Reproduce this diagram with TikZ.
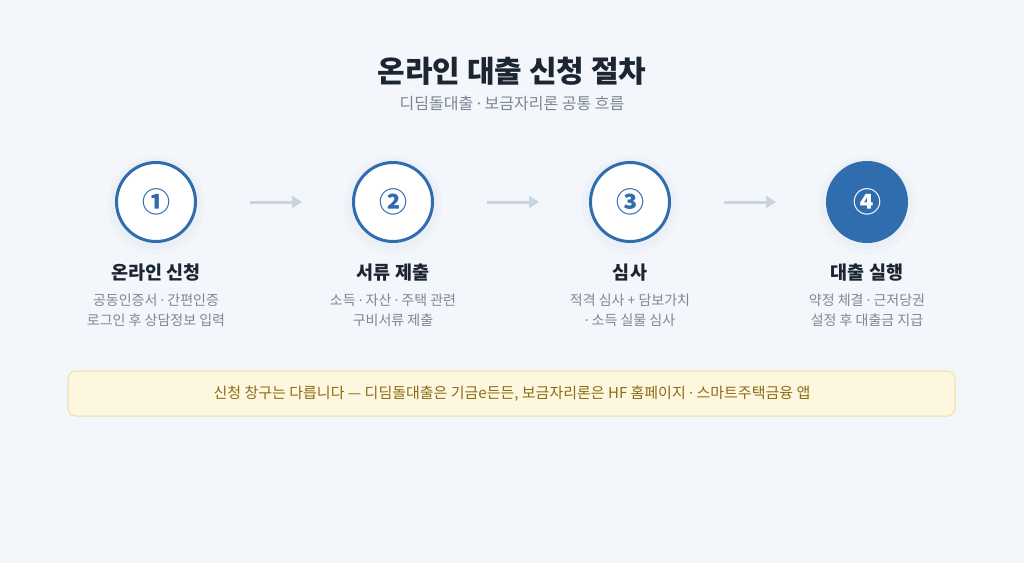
\documentclass[tikz,border=0pt]{standalone}
\usepackage{fontspec}
\setmainfont{Noto Sans CJK KR}
\newfontfamily\dotfont{Noto Sans}
\usepackage{tikz}
\usetikzlibrary{arrows.meta}
\usetikzlibrary{positioning}

\newcommand{\mdot}{{\dotfont ·}}

\definecolor{bgcol}{HTML}{F3F6FA}
\definecolor{stepblue}{HTML}{2F6DAE}
\definecolor{titlecol}{HTML}{1C2633}
\definecolor{subcol}{HTML}{7B8696}
\definecolor{desccol}{HTML}{7E8894}
\definecolor{arrowcol}{HTML}{C8D4E2}
\definecolor{notefill}{HTML}{FEF7E0}
\definecolor{notedraw}{HTML}{F2DE9E}
\definecolor{notetext}{HTML}{8C6B14}

\tikzset{
	stepcircle/.style={circle, draw=stepblue, line width=3pt, fill=white, minimum size=79pt, inner sep=0pt, text=stepblue, font=\bfseries\fontsize{28}{28}\selectfont},
	stepdone/.style={stepcircle, fill=stepblue, text=white},
	steptitle/.style={text=titlecol, font=\bfseries\fontsize{18.5}{18.5}\selectfont},
	stepdesc/.style={text=desccol, align=center, font=\fontsize{14}{20}\selectfont},
	flow/.style={draw=arrowcol, line width=3pt, -{Triangle[length=10pt,width=12pt]}, shorten <=53pt, shorten >=50pt}
}

\begin{document}
\begin{tikzpicture}[x=1pt, y=-1pt]
			\fill[bgcol] (0,0) rectangle (1024,563);
			\useasboundingbox (0,0) rectangle (1024,563);
			
			\node[text=titlecol, font=\bfseries\fontsize{30}{30}\selectfont] (title) at (512,71) {온라인 대출 신청 절차};
			\node[text=subcol, font=\fontsize{16}{16}\selectfont] (subtitle) at (512,103) {디딤돌대출 \mdot{} 보금자리론 공통 흐름};
			
			\coordinate (p1) at (156,202);
			\coordinate (p2) at (393,202);
			\coordinate (p3) at (630,202);
			\coordinate (p4) at (867,202);
			
			% soft shadows
			\fill[stepblue, opacity=0.018] ([yshift=-3pt]p1) circle (49) ([yshift=-3pt]p2) circle (49) ([yshift=-3pt]p3) circle (49) ([yshift=-3pt]p4) circle (49);
			\fill[stepblue, opacity=0.02] ([yshift=-2pt]p1) circle (45) ([yshift=-2pt]p2) circle (45) ([yshift=-2pt]p3) circle (45) ([yshift=-2pt]p4) circle (45);
			
			\node[stepcircle] (c1) at (p1) {①};
			\node[stepcircle] (c2) at (p2) {②};
			\node[stepcircle] (c3) at (p3) {③};
			\node[stepdone] (c4) at (p4) {④};
			
			\draw[flow] (c1) -- (c2);
			\draw[flow] (c2) -- (c3);
			\draw[flow] (c3) -- (c4);
			
			\node[steptitle] (t1) at (156,273) {온라인 신청};
			\node[steptitle] (t2) at (393,273) {서류 제출};
			\node[steptitle] (t3) at (630,273) {심사};
			\node[steptitle] (t4) at (867,273) {대출 실행};
			
			\node[stepdesc] (d1) at (156,310) {공동인증서 \mdot{} 간편인증\\로그인 후 상담정보 입력};
			\node[stepdesc] (d2) at (393,310) {소득 \mdot{} 자산 \mdot{} 주택 관련\\구비서류 제출};
			\node[stepdesc] (d3) at (630,310) {적격 심사 + 담보가치\\\mdot{} 소득 실물 심사};
			\node[stepdesc] (d4) at (867,310) {약정 체결 \mdot{} 근저당권\\설정 후 대출금 지급};
			
			\draw[notedraw, fill=notefill, line width=1pt, rounded corners=8pt] (68,371) rectangle (955,416);
			\node[text=notetext, font=\fontsize{15}{15}\selectfont] (note) at (512,393.5) {신청 창구는 다릅니다 — 디딤돌대출은 기금e든든, 보금자리론은 HF 홈페이지 \mdot{} 스마트주택금융 앱};
		\end{tikzpicture}
\end{document}
